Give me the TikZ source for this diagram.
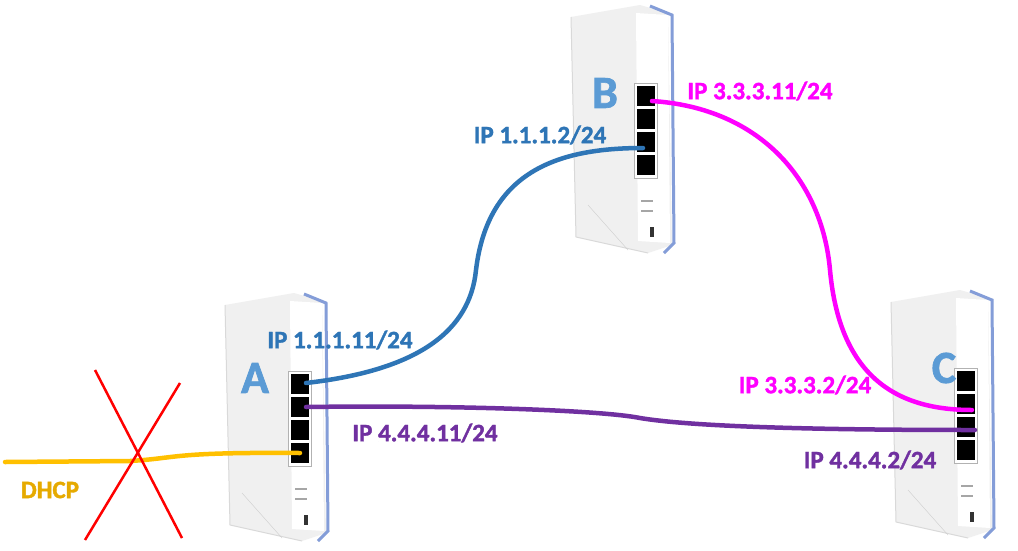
\documentclass[tikz,border=0pt]{standalone}
\usepackage{fontspec}
\setmainfont{Carlito}
\newfontfamily\lblfont{Carlito}[UprightFont=* Bold,FakeBold=1.5]
\begin{document}
\begin{tikzpicture}[x=1pt,y=-1pt,
  lbl/.style={font=\fontsize{25}{29}\lblfont,inner sep=0pt},
  big/.style={font=\fontsize{46}{50}\lblfont,text={rgb,255:red,91;green,155;blue,213},inner sep=0pt},
  cable/.style={line width=4.5pt,line cap=round},
  router/.pic={
    \fill[gray!12] (3,12) -- (72,0) -- (100,8) -- (104,240) -- (80,248) -- (8,232) -- cycle;
    \fill[white] (68,8) -- (100,10) -- (102,238) -- (70,236) -- cycle;
    \draw[cyan!40!blue!50,line width=3pt] (82,1) -- (104,10) -- (106,238) -- (96,248);
    \draw[gray!30,line width=1pt] (3,12) -- (8,232) -- (80,248);
    \draw[gray!40] (20,200) -- (60,245);
    \fill[gray!60] (66,78) rectangle (90,174);
    \fill[white] (67,79) rectangle (89,173);
    \foreach \k in {0,1,2,3} {\fill[black] (69,81+23*\k) rectangle (87,101+23*\k);}
    \fill[gray!70] (73,195) rectangle (85,197);
    \fill[gray!70] (73,205) rectangle (85,207);
    \fill[black!80] (82,222) rectangle (86,232);
  }]
\useasboundingbox (0,0) rectangle (1018,550);
\fill[white] (0,0) rectangle (1018,550);
\pic (A) at (222,293) {router};
\pic (B) at (568,5) {router};
\pic (C) at (888,290) {router};
\coordinate (a1) at (306,383);
\coordinate (a2) at (306,407);
\coordinate (a4) at (300,453);
\coordinate (b1) at (652,101);
\coordinate (b3) at (643,148);
\coordinate (c2) at (972,410);
\coordinate (c3) at (975,430);
\coordinate (y0) at (5,462);
\draw[cable,color={rgb,255:red,46;green,117;blue,182}] (a1) .. controls (420,370) and (470,330) .. (476,270) .. controls (488,170) and (560,148) .. (b3);
\draw[cable,color={rgb,255:red,112;green,48;blue,160}] (a2) .. controls (450,405) and (600,410) .. (640,418) .. controls (700,428) and (850,430) .. (c3);
\draw[cable,color={rgb,255:red,255;green,0;blue,255}] (b1) .. controls (760,108) and (822,180) .. (830,270) .. controls (840,380) and (900,410) .. (c2);
\draw[cable,color={rgb,255:red,255;green,192;blue,0}] (y0) -- (130,461) .. controls (180,458) and (170,452) .. (a4);
\draw[red,line width=2.5pt] (95,370) -- (182,538);
\draw[red,line width=2.5pt] (180,383) -- (85,540);
\node[big] (nA) at (255,378) {A};
\node[big] (nB) at (605,93) {B};
\node[big] (nC) at (944,368) {C};
\node[lbl,text={rgb,255:red,46;green,117;blue,182}] (l1) at (340,340) {IP 1.1.1.11/24};
\node[lbl,text={rgb,255:red,46;green,117;blue,182}] (l2) at (540,135) {IP 1.1.1.2/24};
\node[lbl,text={rgb,255:red,255;green,0;blue,255}] (l3) at (760,91) {IP 3.3.3.11/24};
\node[lbl,text={rgb,255:red,255;green,0;blue,255}] (l4) at (805,385) {IP 3.3.3.2/24};
\node[lbl,text={rgb,255:red,112;green,48;blue,160}] (l5) at (425,433) {IP 4.4.4.11/24};
\node[lbl,text={rgb,255:red,112;green,48;blue,160}] (l6) at (870,460) {IP 4.4.4.2/24};
\node[lbl,text={rgb,255:red,230;green,170;blue,0}] (l7) at (50,490) {DHCP};
\end{tikzpicture}
\end{document}
